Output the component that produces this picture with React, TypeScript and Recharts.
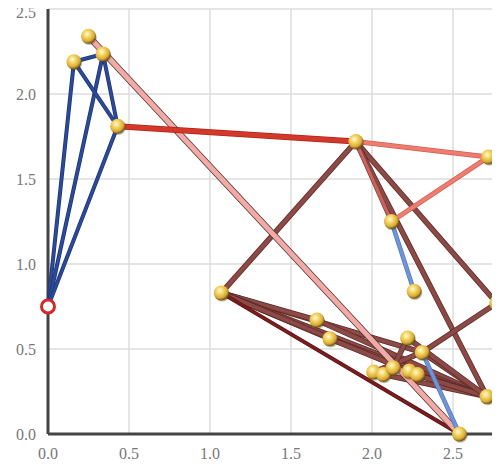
import { ComposedChart, Scatter, XAxis, YAxis, CartesianGrid } from "recharts";

// node positions
const nodeNames = ["A", "B", "C", "D", "E", "F", "G", "H", "I", "J", "K", "L", "M", "N", "O", "P", "Q", "R", "S", "T", "U"];
const nodeX = [0.25, 0.16, 0.34, 0.43, 1.9, 2.72, 2.12, 1.07, 2.26, 2.77, 1.66, 1.74, 2.22, 2.31, 2.01, 2.07, 2.13, 2.23, 2.28, 2.71, 2.54];
const nodeY = [2.34, 2.19, 2.235, 1.81, 1.72, 1.63, 1.25, 0.83, 0.84, 0.77, 0.67, 0.56, 0.565, 0.48, 0.365, 0.35, 0.39, 0.37, 0.35, 0.22, 0.0];
const rootX = [0.0];
const rootY = [0.75];

// edges, grouped by colour
const navyEdges = [["root", "B"], ["root", "C"], ["root", "D"], ["B", "C"], ["B", "D"], ["C", "D"]];
const redEdges = [["D", "E"]];
const salmonEdges = [["E", "F"], ["F", "G"]];
const roseEdges = [["E", "G"]];
const paleBlueEdges = [["G", "I"], ["N", "U"]];
const pinkEdges = [["A", "U"]];
const darkRedEdges = [["H", "U"]];
const brownEdges = [
  ["E", "H"], ["E", "J"], ["E", "T"], ["H", "N"], ["H", "K"], ["H", "T"], ["H", "L"], ["H", "S"],
  ["K", "T"], ["L", "T"], ["L", "R"], ["O", "N"], ["Q", "M"], ["P", "T"], ["R", "T"], ["S", "T"],
  ["N", "J"], ["N", "T"], ["Q", "T"], ["M", "T"],
];

const xTicks = [0, 0.5, 1, 1.5, 2, 2.5];
const yTicks = [0, 0.5, 1, 1.5, 2, 2.5];

const nodes = nodeNames.map((name, i) => ({ name, x: nodeX[i], y: nodeY[i] }));
const root = { name: "root", x: rootX[0], y: rootY[0] };
const find = (n: string) => (n === "root" ? root : nodes.find((d) => d.name === n)!);

// edge: dark underlay ("shade") + main stroke, gives the tube look
const groups = [
  { edges: brownEdges, stroke: "#8c4a47", shade: "#5e2a28", width: 4 },
  { edges: darkRedEdges, stroke: "#7a1d1d", shade: "#5a1414", width: 2.5 },
  { edges: pinkEdges, stroke: "#f2aaa6", shade: "#4e3636", width: 5 },
  { edges: roseEdges, stroke: "#c8655f", shade: "#8a3c38", width: 3 },
  { edges: salmonEdges, stroke: "#ee7d70", shade: "#d06055", width: 3.5 },
  { edges: redEdges, stroke: "#d5382a", shade: "#a82418", width: 4.5 },
  { edges: paleBlueEdges, stroke: "#6f95d8", shade: "#5577b8", width: 3 },
  { edges: navyEdges, stroke: "#2c4a98", shade: "#1f3577", width: 2.5 },
];

const font = { fontFamily: "Liberation Serif", fontSize: 16, fill: "#777" };

const YTick = (props: any) => {
  const { x, y, payload } = props;
  // top label sits a little below the frame
  const yy = payload.value === 2.5 ? y + 3 : y;
  return (
    <text x={x} y={yy} dy="0.355em" textAnchor="end" {...font}>
      {payload.value.toFixed(1)}
    </text>
  );
};

const Ball = (props: any) => {
  const { cx, cy } = props;
  return (
    <g>
      <circle cx={cx + 0.8} cy={cy + 1.2} r={7.5} fill="#4a3a10" opacity={0.35} />
      <circle cx={cx} cy={cy} r={7.5} fill="url(#ball)" />
    </g>
  );
};

const RootDot = (props: any) => {
  const { cx, cy } = props;
  return <circle cx={cx} cy={cy} r={6.5} fill="#fff" stroke="#d22a2a" strokeWidth={3} />;
};

const NoDot = () => <g />;

export default function App() {
  return (
    <div style={{ margin: -8, width: 500, height: 467, overflow: "hidden", background: "#fff" }}>
      <ComposedChart width={540} height={467} margin={{ top: 9, right: 6, bottom: 3, left: 0 }}>
        <defs>
          <radialGradient id="ball" cx="40%" cy="35%" r="65%">
            <stop offset="0%" stopColor="#fffbe0" />
            <stop offset="35%" stopColor="#f5d767" />
            <stop offset="75%" stopColor="#d9a935" />
            <stop offset="100%" stopColor="#6b5312" />
          </radialGradient>
        </defs>
        <CartesianGrid stroke="#dcdcdc" strokeWidth={1.5} />
        <XAxis
          type="number"
          dataKey="x"
          domain={[0, 3]}
          ticks={xTicks}
          tickFormatter={(v: number) => v.toFixed(1)}
          tick={font}
          tickLine={false}
          tickSize={0}
          tickMargin={14}
          height={30}
          axisLine={{ stroke: "#444", strokeWidth: 3 }}
        />
        <XAxis
          xAxisId="top"
          orientation="top"
          type="number"
          dataKey="x"
          domain={[0, 3]}
          tick={false}
          tickLine={false}
          height={0}
          axisLine={{ stroke: "#444", strokeWidth: 3 }}
        />
        <YAxis
          type="number"
          dataKey="y"
          domain={[0, 2.5]}
          ticks={yTicks}
          tick={YTick}
          tickLine={false}
          tickSize={0}
          tickMargin={12}
          width={48}
          axisLine={{ stroke: "#444", strokeWidth: 3 }}
        />
        {groups.flatMap((g, gi) =>
          g.edges.flatMap(([a, b], ei) => [
            <Scatter
              key={`s-${gi}-${ei}`}
              data={[find(a), find(b)]}
              line={{ stroke: g.shade, strokeWidth: g.width + 1.5, strokeLinecap: "round" }}
              shape={NoDot}
              isAnimationActive={false}
            />,
            <Scatter
              key={`e-${gi}-${ei}`}
              data={[find(a), find(b)]}
              line={{ stroke: g.stroke, strokeWidth: g.width, strokeLinecap: "round" }}
              shape={NoDot}
              isAnimationActive={false}
            />,
          ])
        )}
        <Scatter data={nodes} shape={Ball} isAnimationActive={false} />
        <Scatter data={[root]} shape={RootDot} isAnimationActive={false} />
      </ComposedChart>
    </div>
  );
}
